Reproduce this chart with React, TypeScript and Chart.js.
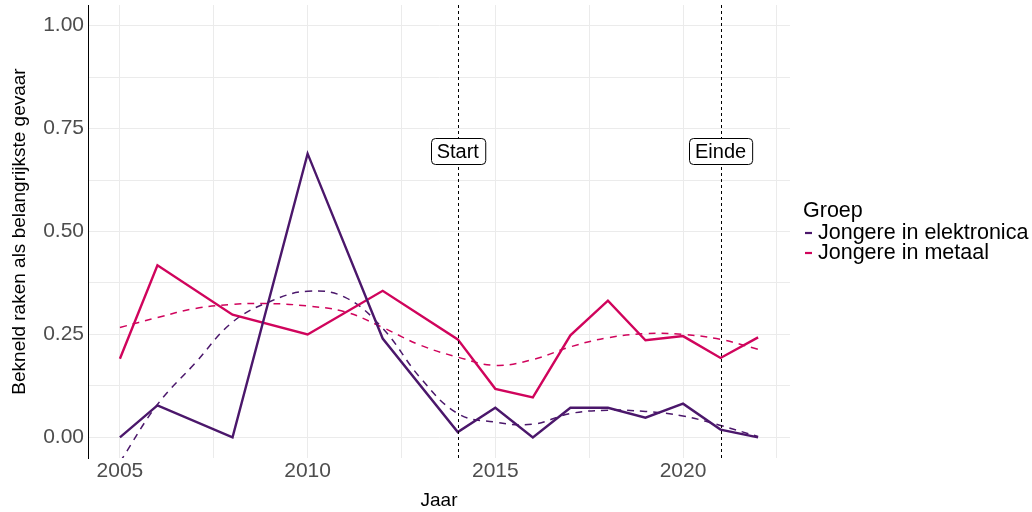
import React, { useEffect, useRef } from "react";
import { Chart, registerables } from "chart.js";

Chart.register(...registerables);

// ---- data ----
const years = [2005, 2006, 2008, 2010, 2012, 2014, 2015, 2016, 2017, 2018, 2019, 2020, 2021, 2022];
const elektronica = [0, 0.078, 0, 0.689, 0.24, 0.013, 0.072, 0, 0.072, 0.072, 0.048, 0.082, 0.019, 0];
const metaal = [0.191, 0.418, 0.298, 0.25, 0.356, 0.238, 0.118, 0.097, 0.248, 0.332, 0.236, 0.246, 0.193, 0.243];

const trendYears = [2005, 2006, 2007, 2008, 2009, 2010, 2011, 2012, 2013, 2014, 2015, 2016, 2017, 2018, 2019, 2020, 2021, 2022];
const trendElektronica = [-0.06, 0.08, 0.18, 0.28, 0.33, 0.355, 0.34, 0.265, 0.145, 0.058, 0.037, 0.032, 0.058, 0.066, 0.063, 0.052, 0.029, 0.002];
const trendMetaal = [0.267, 0.291, 0.313, 0.323, 0.325, 0.319, 0.305, 0.267, 0.224, 0.195, 0.175, 0.189, 0.22, 0.242, 0.252, 0.25, 0.238, 0.214];

const seriesNames = ["Jongere in elektronica", "Jongere in metaal"];
const seriesColors = ["#4b176b", "#d0045c"];
const legendTitle = "Groep";

const eventYears = [2014, 2021];
const eventLabels = ["Start", "Einde"];
const eventLabelValue = 0.695;

const xGridValues = [2005, 2007.5, 2010, 2012.5, 2015, 2017.5, 2020, 2022.5];
const yGridValues = [0, 0.125, 0.25, 0.375, 0.5, 0.625, 0.75, 0.875, 1];

const xTitle = "Jaar";
const yTitle = "Bekneld raken als belangrijkste gevaar";

const FONT = '"Liberation Sans", Arial, sans-serif';

function toPoints(xs: number[], ys: number[]) {
  return xs.map((x, i) => ({ x, y: ys[i] }));
}

const overlayPlugin = {
  id: "overlay",
  afterDatasetsDraw(chart: any) {
    const { ctx, chartArea, scales } = chart;
    const xs = scales.x;
    const ys = scales.y;
    ctx.save();
    ctx.strokeStyle = "#000";
    ctx.lineWidth = 1;
    ctx.setLineDash([3, 3]);
    eventYears.forEach((yr) => {
      const px = Math.round(xs.getPixelForValue(yr)) + 0.5;
      ctx.beginPath();
      ctx.moveTo(px, chartArea.top);
      ctx.lineTo(px, chartArea.bottom);
      ctx.stroke();
    });
    ctx.setLineDash([]);
    ctx.font = "20px " + FONT;
    ctx.textAlign = "center";
    ctx.textBaseline = "middle";
    eventYears.forEach((yr, i) => {
      const cx = xs.getPixelForValue(yr);
      const cy = ys.getPixelForValue(eventLabelValue);
      const w = ctx.measureText(eventLabels[i]).width + 12;
      const h = 26;
      const x0 = Math.round(cx - w / 2) + 0.5;
      const y0 = Math.round(cy - h / 2) + 0.5;
      ctx.beginPath();
      ctx.roundRect(x0, y0, w, h, 4);
      ctx.fillStyle = "#fff";
      ctx.fill();
      ctx.strokeStyle = "#000";
      ctx.lineWidth = 1;
      ctx.stroke();
      ctx.fillStyle = "#000";
      ctx.fillText(eventLabels[i], cx, cy + 1);
    });
    ctx.restore();
  },
  afterDraw(chart: any) {
    const { ctx } = chart;
    ctx.save();
    ctx.fillStyle = "#000";
    ctx.textAlign = "left";
    ctx.textBaseline = "middle";
    ctx.font = "21.5px " + FONT;
    ctx.fillText(legendTitle, 803, 211);
    seriesNames.forEach((name, i) => {
      const y = 233 + i * 20;
      ctx.strokeStyle = seriesColors[i];
      ctx.lineWidth = 2.2;
      ctx.beginPath();
      ctx.moveTo(805, y);
      ctx.lineTo(812, y);
      ctx.stroke();
      ctx.fillText(name, 818, y);
    });
    ctx.restore();
  },
};

export default function App() {
  const canvasRef = useRef<HTMLCanvasElement | null>(null);

  useEffect(() => {
    if (!canvasRef.current) return;
    Chart.defaults.font.family = FONT;
    const chart = new Chart(canvasRef.current, {
      type: "line",
      data: {
        datasets: [
          {
            label: seriesNames[0],
            data: toPoints(years, elektronica),
            borderColor: seriesColors[0],
            borderWidth: 2.4,
            pointRadius: 0,
            tension: 0,
          },
          {
            label: seriesNames[1],
            data: toPoints(years, metaal),
            borderColor: seriesColors[1],
            borderWidth: 2.4,
            pointRadius: 0,
            tension: 0,
          },
          {
            label: seriesNames[0] + " trend",
            data: toPoints(trendYears, trendElektronica),
            borderColor: seriesColors[0],
            borderWidth: 1.5,
            borderDash: [7, 6],
            pointRadius: 0,
            tension: 0.4,
          },
          {
            label: seriesNames[1] + " trend",
            data: toPoints(trendYears, trendMetaal),
            borderColor: seriesColors[1],
            borderWidth: 1.5,
            borderDash: [7, 6],
            pointRadius: 0,
            tension: 0.4,
          },
        ],
      },
      options: {
        responsive: false,
        animation: false,
        devicePixelRatio: 1,
        layout: { padding: { left: 0, top: 5, right: 242, bottom: 0 } },
        plugins: { legend: { display: false }, tooltip: { enabled: false } },
        scales: {
          x: {
            type: "linear",
            min: 2004.15,
            max: 2022.85,
            afterBuildTicks: (scale: any) => {
              scale.ticks = xGridValues.map((v) => ({ value: v }));
            },
            afterFit: (scale: any) => {
              scale.height = 54;
              scale.paddingLeft = 0;
              scale.paddingRight = 0;
            },
            ticks: {
              autoSkip: false,
              maxRotation: 0,
              padding: 1,
              color: "#4d4d4d",
              font: { size: 21 },
              callback: (v: any) => (Number(v) % 5 === 0 ? String(v) : ""),
            },
            grid: { color: "#ebebeb", lineWidth: 1, drawTicks: false },
            border: { display: false },
            title: {
              display: true,
              text: xTitle,
              color: "#000",
              font: { size: 19 },
              padding: { top: 0, bottom: 0 },
            },
          },
          y: {
            type: "linear",
            min: -0.05,
            max: 1.05,
            afterBuildTicks: (scale: any) => {
              scale.ticks = yGridValues.map((v) => ({ value: v }));
            },
            afterFit: (scale: any) => {
              scale.width = 88;
              scale.paddingTop = 0;
              scale.paddingBottom = 0;
            },
            ticks: {
              autoSkip: false,
              padding: 4,
              color: "#4d4d4d",
              font: { size: 21 },
              callback: (v: any) => {
                const n = Number(v);
                return Math.abs(n * 4 - Math.round(n * 4)) < 1e-9 ? n.toFixed(2) : "";
              },
            },
            grid: { color: "#ebebeb", lineWidth: 1, drawTicks: false },
            border: { display: true, color: "#000", width: 1 },
            title: {
              display: true,
              text: yTitle,
              color: "#000",
              font: { size: 19 },
              padding: { top: 8, bottom: 0 },
            },
          },
        },
      },
      plugins: [overlayPlugin],
    });
    return () => chart.destroy();
  }, []);

  return (
    <div style={{ position: "absolute", left: 0, top: 0, width: 1032, height: 512, background: "#fff" }}>
      <canvas ref={canvasRef} width={1032} height={512} style={{ width: 1032, height: 512 }} />
    </div>
  );
}
